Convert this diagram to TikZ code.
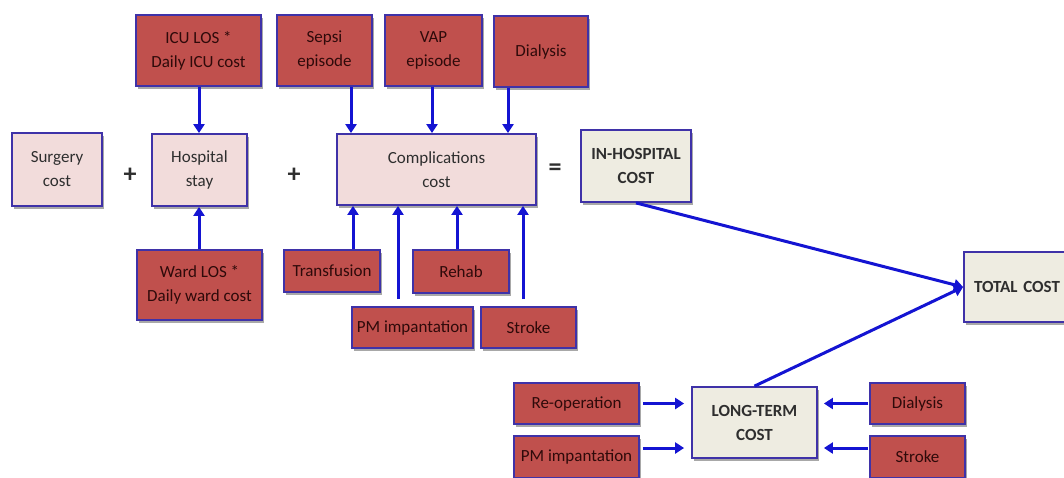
\documentclass[tikz,border=0pt]{standalone}
\usepackage{fontspec}
\setmainfont{Carlito}
\usetikzlibrary{arrows.meta}
\definecolor{redbox}{HTML}{C0504D}
\definecolor{pinkbox}{HTML}{F2DCDB}
\definecolor{tanbox}{HTML}{EEECE1}
\definecolor{bordercol}{HTML}{3F32A8}
\definecolor{arrowcol}{HTML}{1414D2}
\definecolor{boxtext}{HTML}{2E0A0A}
\definecolor{darktext}{HTML}{2E2E2E}
\definecolor{shadowcol}{HTML}{A8A8A8}
\tikzset{
  base/.style={draw=bordercol, line width=1.8pt, inner sep=0pt, align=center,
    preaction={draw=none, fill=shadowcol, transform canvas={xshift=2pt, yshift=-2.5pt}}},
  redn/.style={base, fill=redbox, text=boxtext, font=\fontsize{17}{24}\selectfont},
  pinkn/.style={base, fill=pinkbox, text=darktext, font=\fontsize{17}{24}\selectfont},
  tann/.style={base, fill=tanbox, text=darktext, font=\fontsize{17}{24}\selectfont\bfseries},
  arr/.style={draw=arrowcol, line width=3pt, -{Triangle[length=9pt,width=11pt]}},
  op/.style={font=\fontsize{26}{26}\selectfont\bfseries, text=darktext, inner sep=0pt}
}
\begin{document}
\begin{tikzpicture}[x=1pt,y=-1pt]
\useasboundingbox (0,0) rectangle (1064,477);
% top row
\node[redn, minimum width=125pt, minimum height=71pt] (icu) at (198.5,50.5) {ICU LOS *\\Daily ICU cost};
\node[redn, minimum width=95pt, minimum height=71pt] (sepsi) at (324.5,50.5) {Sepsi\\episode};
\node[redn, minimum width=97pt, minimum height=71pt] (vap) at (433.5,50.5) {VAP\\episode};
\node[redn, minimum width=94pt, minimum height=71pt] (dial) at (541,51.5) {Dialysis};
% middle row
\node[pinkn, minimum width=90pt, minimum height=73pt] (surg) at (57,169.5) {Surgery\\cost};
\node[op] (plus1) at (130,175) {+};
\node[pinkn, minimum width=95pt, minimum height=72pt] (hosp) at (199.5,170) {Hospital\\stay};
\node[op] (plus2) at (294,175) {+};
\node[pinkn, minimum width=199pt, minimum height=71pt] (comp) at (436.5,169.5) {Complications\\cost};
\node[op] (eq) at (555,170) {=};
\node[tann, minimum width=110pt, minimum height=72pt] (inh) at (636,166) {IN-HOSPITAL\\COST};
% lower
\node[redn, minimum width=125pt, minimum height=70pt] (ward) at (199.5,285) {Ward LOS *\\Daily ward cost};
\node[redn, minimum width=96pt, minimum height=42pt] (trans) at (332,271) {Transfusion};
\node[redn, minimum width=96pt, minimum height=43pt] (rehab) at (461,271.5) {Rehab};
\node[redn, minimum width=121pt, minimum height=41pt] (pm) at (412.5,327.5) {PM impantation};
\node[redn, minimum width=95pt, minimum height=41pt] (stroke) at (528.5,327.5) {Stroke};
% total
\node[tann, minimum width=106pt, minimum height=70pt, text width=106pt] (tot) at (1017,287) {TOTAL COST};
% long term
\node[tann, minimum width=125pt, minimum height=71pt] (lt) at (754.5,422.5) {LONG-TERM\\COST};
\node[redn, minimum width=125pt, minimum height=41pt] (reop) at (576.5,403.5) {Re-operation};
\node[redn, minimum width=125pt, minimum height=42pt] (pm2) at (576.5,457) {PM impantation};
\node[redn, minimum width=95pt, minimum height=41pt] (dial2) at (917.5,403.5) {Dialysis};
\node[redn, minimum width=95pt, minimum height=42pt] (stroke2) at (917.5,457) {Stroke};
% arrows
\draw[arr] (icu.south -| 199,0) -- (hosp.north -| 199,0);
\draw[arr] (ward.north -| 199,0) -- (hosp.south -| 199,0);
\draw[arr] (sepsi.south -| 351,0) -- (comp.north -| 351,0);
\draw[arr] (vap.south -| 432,0) -- (comp.north -| 432,0);
\draw[arr] (dial.south -| 508,0) -- (comp.north -| 508,0);
\draw[arr] (trans.north -| 353,0) -- (comp.south -| 353,0);
\draw[arr, shorten <=7pt] (pm.north -| 398,0) -- (comp.south -| 398,0);
\draw[arr] (rehab.north -| 457,0) -- (comp.south -| 457,0);
\draw[arr, shorten <=7pt] (stroke.north -| 523,0) -- (comp.south -| 523,0);
\draw[arr] (inh.south) -- (tot.west);
\draw[arr] (lt.north) -- (tot.west);
\draw[arr, shorten <=3pt, shorten >=7pt] (reop.east) -- (reop.east -| lt.west);
\draw[arr, shorten <=3pt, shorten >=7pt] (pm2.east |- 0,448) -- (lt.west |- 0,448);
\draw[arr, shorten <=1pt, shorten >=6pt] (dial2.west) -- (dial2.west -| lt.east);
\draw[arr, shorten <=1pt, shorten >=6pt] (stroke2.west |- 0,448) -- (lt.east |- 0,448);
\end{tikzpicture}
\end{document}
